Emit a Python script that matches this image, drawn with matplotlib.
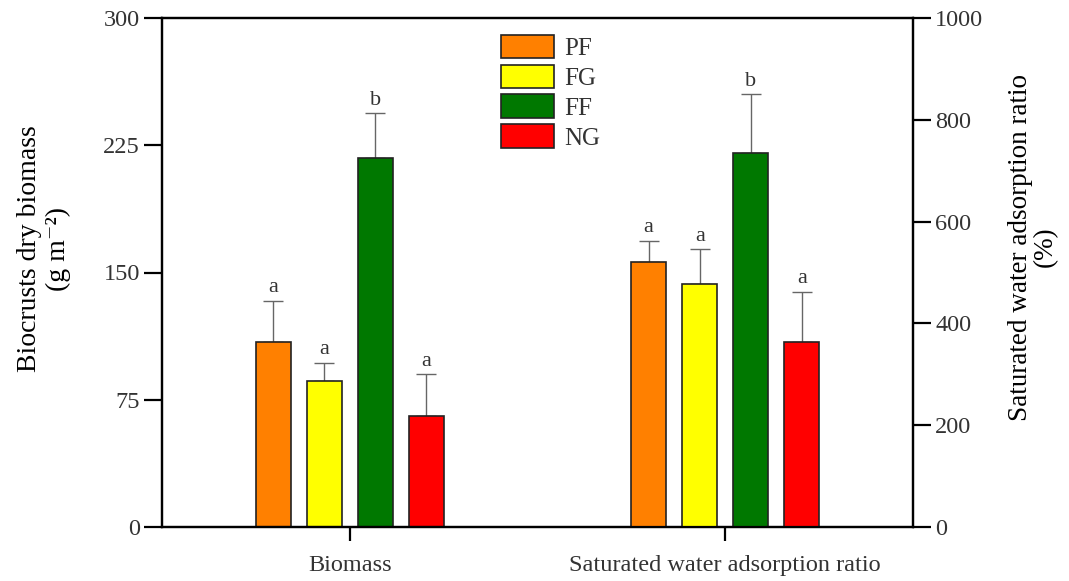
import numpy as np
import matplotlib.pyplot as plt

plt.rcParams['font.family'] = ['Liberation Serif', 'DejaVu Serif']

# data
groups = ['Biomass', 'Saturated water adsorption ratio']
treatments = ['PF', 'FG', 'FF', 'NG']
colors = ['#ff8000', '#ffff00', '#007800', '#ff0000']

biomass = [109.2, 86.2, 217.3, 65.6]
biomass_err = [24.2, 10.6, 26.5, 24.6]
water = [520, 477, 734, 364]
water_err = [42, 69, 116, 98]
letters_biomass = ['a', 'a', 'b', 'a']
letters_water = ['a', 'a', 'b', 'a']

fig = plt.figure(figsize=(10.69, 5.81), dpi=100)
ax = fig.add_axes([162 / 1069, 54 / 581, 751 / 1069, 509 / 581])
ax2 = ax.twinx()

offsets = [-0.204, -0.068, 0.068, 0.204]
width = 0.093
ekw = dict(ecolor='#666666', elinewidth=1.0, capsize=7, capthick=1.0)

for i in range(4):
    ax.bar(0 + offsets[i], biomass[i], width, color=colors[i],
           edgecolor='#222222', linewidth=1.2, label=treatments[i], zorder=2)
    ax.errorbar(0 + offsets[i], biomass[i], yerr=[[0], [biomass_err[i]]],
                fmt='none', zorder=1, **ekw)
    ax.text(0 + offsets[i], biomass[i] + biomass_err[i] + 2, letters_biomass[i],
            ha='center', va='bottom', fontsize=16, color='#333333')

    ax2.bar(1 + offsets[i], water[i], width, color=colors[i],
            edgecolor='#222222', linewidth=1.2, zorder=2)
    ax2.errorbar(1 + offsets[i], water[i], yerr=[[0], [water_err[i]]],
                 fmt='none', zorder=1, **ekw)
    ax2.text(1 + offsets[i], water[i] + water_err[i] + 7, letters_water[i],
             ha='center', va='bottom', fontsize=16, color='#333333')

ax.set_xlim(-0.5, 1.5)
ax.set_ylim(0, 300)
ax.set_yticks([0, 75, 150, 225, 300])
ax2.set_ylim(0, 1000)
ax2.set_yticks([0, 200, 400, 600, 800, 1000])
ax.set_xticks([0, 1])
ax.set_xticklabels(groups)

for a in (ax, ax2):
    for s in a.spines.values():
        s.set_linewidth(1.6)
    a.tick_params(direction='out', length=13, width=1.6, labelsize=17.5,
                  labelcolor='#333333', pad=3)
ax.tick_params(axis='x', length=10, labelsize=17.5, pad=10)

ax.set_ylabel('Biocrusts dry biomass\n(g m\u207b\u00b2)', fontsize=20,
              labelpad=23, linespacing=1.22)
ax2.set_ylabel('Saturated water adsorption ratio\n(%)', fontsize=19.5,
               labelpad=18, linespacing=1.0)
ax.yaxis.label.set_y(0.547)
ax2.yaxis.label.set_y(0.55)

leg = ax.legend(loc='upper left', bbox_to_anchor=(0.451, 0.967), frameon=False,
                fontsize=18, handlelength=2.15, handleheight=1.08,
                labelspacing=0.18, handletextpad=0.4, borderaxespad=0,
                borderpad=0)
for t in leg.get_texts():
    t.set_color('#333333')

fig.savefig('out.png', dpi=100)
